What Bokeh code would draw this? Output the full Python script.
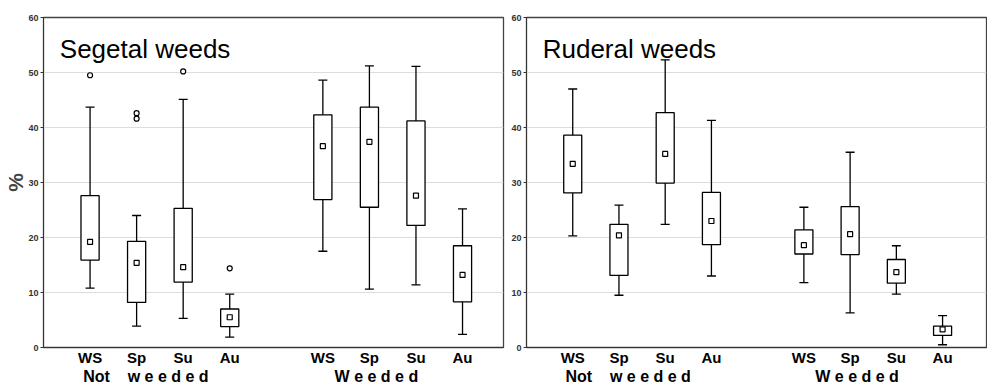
from bokeh.plotting import figure
from bokeh.layouts import row
from bokeh.models import (FixedTicker, LinearAxis, Label, Whisker, TeeHead,
                          ColumnDataSource, Range1d)
from bokeh.embed import file_html
from bokeh.resources import INLINE

positions = [1, 2, 3, 4, 6, 7, 8, 9]
season_labels = ["WS", "Sp", "Su", "Au", "WS", "Sp", "Su", "Au"]
group_labels = ["Not\u00a0\u00a0\u00a0\u00a0w e e d e d", "W e e d e d"]
group_centers = [2.2, 7.15]
y_ticks = [0, 10, 20, 30, 40, 50, 60]

# Segetal weeds
seg_lower = [10.8, 3.9, 5.3, 1.9, 17.5, 10.6, 11.4, 2.4]
seg_q1 = [15.9, 8.2, 11.9, 3.8, 26.9, 25.5, 22.2, 8.3]
seg_median = [19.2, 15.4, 14.6, 5.5, 36.6, 37.4, 27.6, 13.2]
seg_q3 = [27.6, 19.3, 25.3, 7.0, 42.3, 43.7, 41.2, 18.5]
seg_upper = [43.7, 24.0, 45.1, 9.7, 48.6, 51.2, 51.1, 25.2]
seg_out_x = [1, 2, 2, 3, 4]
seg_out_y = [49.5, 42.6, 41.6, 50.2, 14.4]

# Ruderal weeds
rud_lower = [20.3, 9.5, 22.4, 13.0, 11.8, 6.3, 9.7, 0.5]
rud_q1 = [28.1, 13.1, 29.9, 18.7, 17.0, 16.9, 11.7, 2.2]
rud_median = [33.4, 20.4, 35.2, 23.0, 18.6, 20.6, 13.7, 3.3]
rud_q3 = [38.6, 22.4, 42.7, 28.2, 21.4, 25.6, 16.0, 3.9]
rud_upper = [47.0, 25.9, 52.3, 41.3, 25.5, 35.5, 18.5, 5.8]
rud_out_x = []
rud_out_y = []

FONT = "Liberation Sans"


def make_panel(title, lower, q1, med, q3, upper, out_x, out_y, x_end,
               width, border_left, border_right, ylabel):
    p = figure(width=width, height=387, output_backend="svg", toolbar_location=None,
               x_range=Range1d(0, x_end), y_range=Range1d(0, 60),
               min_border_left=border_left, min_border_right=border_right,
               min_border_top=17, min_border_bottom=39)
    p.outline_line_color = "#444444"
    p.outline_line_width = 1.3
    p.xgrid.visible = False
    p.ygrid.ticker = FixedTicker(ticks=y_ticks)
    p.ygrid.grid_line_color = "#dddddd"
    p.ygrid.grid_line_width = 1

    # y axis
    p.yaxis.ticker = FixedTicker(ticks=y_ticks)
    p.yaxis.major_label_text_font = FONT
    p.yaxis.major_label_text_font_size = "9px"
    p.yaxis.major_label_text_font_style = "bold"
    p.yaxis.major_label_text_color = "#333333"
    p.yaxis.major_tick_out = 3
    p.yaxis.major_tick_in = 0
    p.yaxis.minor_tick_line_color = None
    p.yaxis.major_label_standoff = 2
    p.yaxis.axis_line_color = "#333333"
    p.yaxis.major_tick_line_color = "#333333"
    if ylabel:
        p.yaxis.axis_label = ylabel
        p.yaxis.axis_label_text_font = FONT
        p.yaxis.axis_label_text_font_size = "21px"
        p.yaxis.axis_label_text_font_style = "bold"
        p.yaxis.axis_label_standoff = -2

    # season axis
    p.xaxis.ticker = FixedTicker(ticks=positions)
    p.xaxis.major_label_overrides = {k: v for k, v in zip(positions, season_labels)}
    p.xaxis.major_label_text_font = FONT
    p.xaxis.major_label_text_font_size = "15px"
    p.xaxis.major_label_text_font_style = "bold"
    p.xaxis.major_label_text_color = "black"
    p.xaxis.major_label_standoff = -5
    p.xaxis.major_tick_line_color = None
    p.xaxis.minor_tick_line_color = None
    p.xaxis.axis_line_color = "#333333"

    # group axis
    gax = LinearAxis(ticker=FixedTicker(ticks=group_centers),
                     major_label_overrides={k: v for k, v in zip(group_centers, group_labels)},
                     major_label_text_font=FONT, major_label_text_font_size="16px",
                     major_label_text_font_style="bold", major_label_text_color="black",
                     major_label_standoff=-7, major_tick_line_color=None,
                     minor_tick_line_color=None, axis_line_color=None)
    p.add_layout(gax, "below")

    src = ColumnDataSource(dict(x=positions, lower=lower, q1=q1, med=med, q3=q3, upper=upper))
    wh = Whisker(base="x", upper="upper", lower="lower", source=src, dimension="height",
                 line_color="black", line_width=1.3,
                 upper_head=TeeHead(size=9, line_color="black", line_width=1.3),
                 lower_head=TeeHead(size=9, line_color="black", line_width=1.3))
    p.add_layout(wh)
    p.vbar(x="x", width=0.39, bottom="q1", top="q3", source=src,
           fill_color="white", line_color="black", line_width=1.3)
    p.scatter(x="x", y="med", source=src, marker="square", size=5,
              fill_color="white", line_color="black", line_width=1.2)
    if out_x:
        p.scatter(x=out_x, y=out_y, marker="circle", size=5,
                  fill_color="white", line_color="black", line_width=1.2)

    p.add_layout(Label(x=0.35, y=54.2, text=title, text_font=FONT,
                       text_font_size="26px", text_color="black",
                       text_baseline="alphabetic"))
    return p


p1 = make_panel("Segetal weeds", seg_lower, seg_q1, seg_median, seg_q3, seg_upper,
                seg_out_x, seg_out_y, 9.88, 506, 43, 3, "%")
p2 = make_panel("Ruderal weeds", rud_lower, rud_q1, rud_median, rud_q3, rud_upper,
                rud_out_x, rud_out_y, 9.95, 481, 20, 1, None)

layout = row(p1, p2, spacing=0)
open("out.html", "w").write(file_html(layout, INLINE))
